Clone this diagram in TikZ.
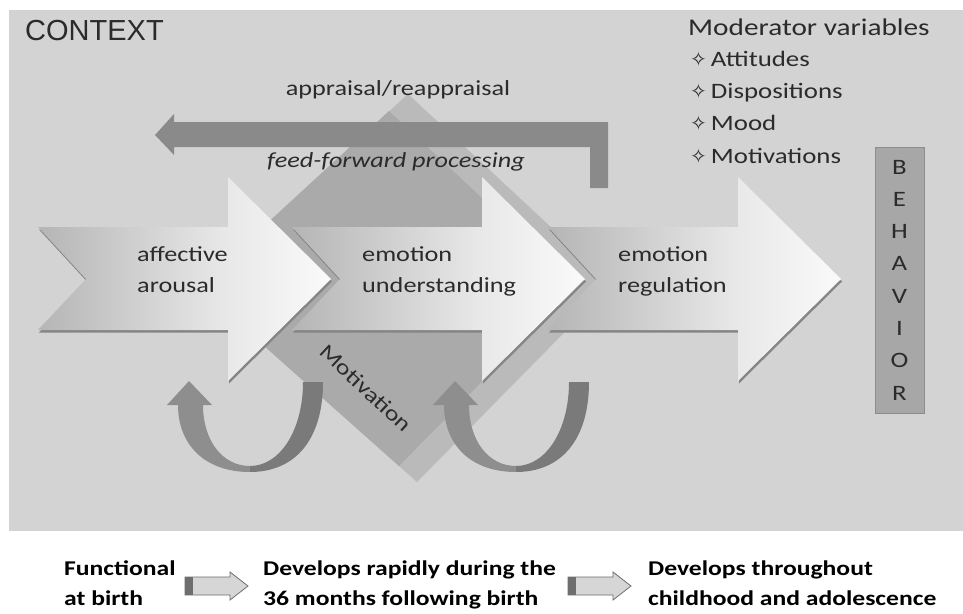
\documentclass[tikz,border=0pt]{standalone}
\usepackage{fontspec}
\setmainfont{Carlito}[FakeStretch=1.22]
\newfontfamily\ctxfont{Liberation Sans}
\newfontfamily\starfont{DejaVu Sans}
\usepackage{tikz}

\definecolor{panel}{HTML}{D3D3D3}
\definecolor{diaout}{HTML}{BABABA}
\definecolor{diain}{HTML}{AAAAAA}
\definecolor{ffarrow}{HTML}{8A8A8A}
\definecolor{uleft}{HTML}{8E8E8E}
\definecolor{uright}{HTML}{7A7A7A}
\definecolor{txt}{HTML}{2B2B2B}
\definecolor{shadowc}{HTML}{858585}
\definecolor{behbox}{HTML}{A7A7A7}
\definecolor{smallfill}{HTML}{D6D6D6}
\definecolor{smalledge}{HTML}{6E6E6E}
\pgfdeclarehorizontalshading{bigarrow}{100bp}{color(0bp)=(black!29); color(25bp)=(black!29); color(57bp)=(black!9); color(75bp)=(black!2); color(100bp)=(black!2)}

\begin{document}
\begin{tikzpicture}[x=1pt,y=-1pt,
    lbl/.style={font=\fontsize{21.5}{30.5}\selectfont, text=txt, align=left, inner sep=0pt, anchor=base west},
    modlbl/.style={font=\fontsize{22}{26}\selectfont, text=txt, inner sep=0pt, anchor=base west},
    botlbl/.style={font=\bfseries\fontsize{21}{30}\selectfont, text=black, align=left, inner sep=0pt, anchor=base west}]
    \useasboundingbox[fill=white] (0,0) rectangle (963,613);
    \fill[panel] (9,10) rectangle (963,531);
    % appraisal / motivation diamond
    \fill[diaout] (408,94) -- (612,284) -- (417,482) -- (198,287) -- cycle;
    \fill[diain] (389,111) -- (576,286) -- (399,466) -- (198,287) -- cycle;
    % feed-forward arrow
    \fill[ffarrow] (608,122) -- (608,188) -- (590,188) -- (590,147) -- (174,147) -- (174,155) -- (155,135) -- (174,114) -- (174,122) -- cycle;
    % big arrows, back to front
    \foreach \hb in {738,482,228}{
        \fill[shadowc,shift={(1,2.5)}] ({\hb-190},227) -- (\hb,227) -- (\hb,177) -- ({\hb+103},279) -- (\hb,381) -- (\hb,330) -- ({\hb-190},330) -- ({\hb-142},279) -- cycle;
        \shade[shading=bigarrow] ({\hb-190},227) -- (\hb,227) -- (\hb,177) -- ({\hb+103},279) -- (\hb,381) -- (\hb,330) -- ({\hb-190},330) -- ({\hb-142},279) -- cycle;
    }
    % loop arrows
    \foreach \dx in {0,266}{
        \begin{scope}[shift={(\dx,0)}]
            \fill[uleft] (250,472) .. controls (205,472) and (178,445) .. (178,405) -- (167,405) -- (189,381) -- (212,405) -- (203,405) .. controls (203,440) and (222,466) .. (250,466) -- cycle;
            \fill[uright] (250,472) .. controls (295,472) and (323,440) .. (323,382) -- (303,382) .. controls (303,430) and (280,466) .. (250,466) -- cycle;
        \end{scope}
    }
    \node[lbl] (arousal) at (137,292) {affective\\arousal};
    \node[lbl] (understand) at (362,292) {emotion\\understanding};
    \node[lbl] (regulate) at (618,292) {emotion\\regulation};
    \node[lbl,anchor=center,rotate=-43] (motiv) at (366,388) {Motivation};
    \node[lbl,anchor=base] (apprais) at (398,95) {appraisal/reappraisal};
    \node[lbl,anchor=base,font=\itshape\fontsize{21.5}{30.5}\selectfont] (feedfwd) at (396,167) {feed-forward processing};
    \node[anchor=base west,inner sep=0pt,text=txt,font=\ctxfont\fontsize{29}{30}\selectfont] (context) at (25,40) {CONTEXT};
    % moderators
    \node[modlbl,font=\fontsize{24}{28}\selectfont] (moder) at (688,35) {Moderator variables};
    \foreach \word [count=\i] in {Attitudes,Dispositions,Mood,Motivations}
        \node[modlbl] (mod\i) at (690,{66+32.4*(\i-1)}) {{\starfont\fontsize{20}{20}\selectfont ✧}\hspace{4pt}\word};
    \node[draw=black!45,fill=behbox,minimum width=49pt,minimum height=266pt,inner sep=0pt,align=center,text=txt,font=\fontsize{22}{32.3}\selectfont] (behav) at (899.5,280) {B\\E\\H\\A\\V\\I\\O\\R};
    % development line
    \node[botlbl] (birth) at (64,605) {Functional\\at birth};
    \node[botlbl] (rapid) at (263,605) {Develops rapidly during the\\36 months following birth};
    \node[botlbl] (child) at (648,605) {Develops throughout\\childhood and adolescence};
    \foreach \ax in {185,568}{
        \filldraw[fill=smallfill,draw=smalledge,line width=0.8pt] (\ax,577) -- ++(45,0) -- ++(0,-5) -- ++(18,14) -- ++(-18,14) -- ++(0,-5) -- ++(-45,0) -- cycle;
        \fill[smalledge] (\ax,577) rectangle ++(8,18);
    }
\end{tikzpicture}
\end{document}
